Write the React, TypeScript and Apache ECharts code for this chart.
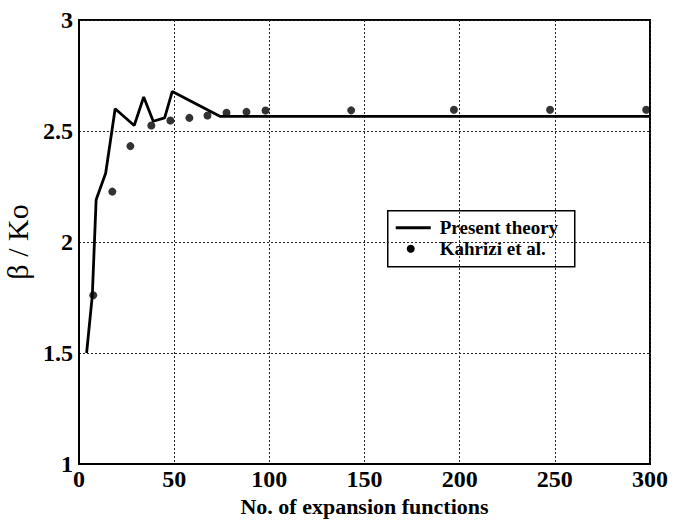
import React, { useEffect, useRef } from "react";
import * as echarts from "echarts";

const theoryX = [4, 7, 9, 14, 19, 29, 34, 39, 45, 49, 74, 300];
const theoryY = [1.5, 1.76, 2.19, 2.31, 2.6, 2.525, 2.653, 2.544, 2.559, 2.678, 2.566, 2.566];

const kahriziX = [7.5, 17.5, 27, 38, 48, 58, 67.5, 77.5, 88, 98, 143, 197, 247.5, 298];
const kahriziY = [1.76, 2.227, 2.432, 2.525, 2.547, 2.559, 2.57, 2.582, 2.586, 2.592, 2.593, 2.596, 2.596, 2.596];

const xTicks = [0, 50, 100, 150, 200, 250, 300];
const yTicks = [1, 1.5, 2, 2.5, 3];

const legendNames = ["Present theory", "Kahrizi et al."];

const FONT = "Liberation Serif, Times New Roman, serif";

export default function App() {
  const ref = useRef<HTMLDivElement>(null);
  useEffect(() => {
    if (!ref.current) return;
    const chart = echarts.init(ref.current, undefined, { renderer: "svg" });
    const lineData = theoryX.map((x, i) => [x, theoryY[i]]);
    const dotData = kahriziX.map((x, i) => [x, kahriziY[i]]);
    chart.setOption({
      animation: false,
      backgroundColor: "#ffffff",
      grid: {
        left: 79,
        right: 23,
        top: 20,
        bottom: 56,
        containLabel: false,
        outerBoundsMode: "none",
        show: true,
        borderColor: "#000",
        borderWidth: 2,
        backgroundColor: "transparent",
      },
      xAxis: {
        type: "value",
        min: xTicks[0],
        max: xTicks[xTicks.length - 1],
        interval: 50,
        name: "No. of expansion functions",
        nameLocation: "middle",
        nameGap: 18,
        nameTextStyle: { fontFamily: FONT, fontSize: 22, fontWeight: "bold", color: "#000" },
        axisLine: { show: true, lineStyle: { color: "#000", width: 2 } },
        axisTick: { show: false },
        axisLabel: { margin: 3, fontFamily: FONT, fontSize: 24, fontWeight: "bold", color: "#000" },
        splitLine: { show: true, lineStyle: { color: "#222", type: [2, 2], width: 1 } },
      },
      yAxis: {
        type: "value",
        min: yTicks[0],
        max: yTicks[yTicks.length - 1],
        interval: 0.5,
        name: "β / Ko",
        nameLocation: "middle",
        nameGap: 42,
        nameTextStyle: { fontFamily: FONT, fontSize: 30, color: "#000" },
        axisLine: { show: true, lineStyle: { color: "#000", width: 2 } },
        axisTick: { show: false },
        axisLabel: {
          margin: 6,
          fontFamily: FONT,
          fontSize: 24,
          fontWeight: "bold",
          color: "#000",
          formatter: (v: number) => String(v),
        },
        splitLine: { show: true, lineStyle: { color: "#222", type: [2, 2], width: 1 } },
      },
      series: [
        {
          name: legendNames[0],
          type: "line",
          data: lineData,
          symbol: "none",
          lineStyle: { color: "#000", width: 2.8 },
          z: 3,
        },
        {
          name: legendNames[1],
          type: "scatter",
          data: dotData,
          symbol: "circle",
          symbolSize: 8,
          itemStyle: { color: "#000" },
          z: 4,
        },
      ],
      graphic: [
        {
          type: "group",
          left: 387,
          top: 210,
          z: 100,
          children: [
            {
              type: "rect",
              shape: { x: 0, y: 0, width: 187, height: 56 },
              style: { fill: "#fff", stroke: "#000", lineWidth: 1.5 },
            },
            {
              type: "line",
              shape: { x1: 8, y1: 17, x2: 43, y2: 17 },
              style: { stroke: "#000", lineWidth: 2.8 },
            },
            {
              type: "circle",
              shape: { cx: 23, cy: 38, r: 4 },
              style: { fill: "#000" },
            },
            {
              type: "text",
              x: 52,
              y: 17,
              style: {
                text: legendNames[0],
                font: `bold 19px ${FONT}`,
                fill: "#000",
                verticalAlign: "middle",
                align: "left",
              },
            },
            {
              type: "text",
              x: 52,
              y: 38,
              style: {
                text: legendNames[1],
                font: `bold 19px ${FONT}`,
                fill: "#000",
                verticalAlign: "middle",
                align: "left",
              },
            },
          ],
        },
      ],
    });
    return () => chart.dispose();
  }, []);
  return <div ref={ref} style={{ width: 673, height: 520, position: "absolute", left: 0, top: 0 }} />;
}
